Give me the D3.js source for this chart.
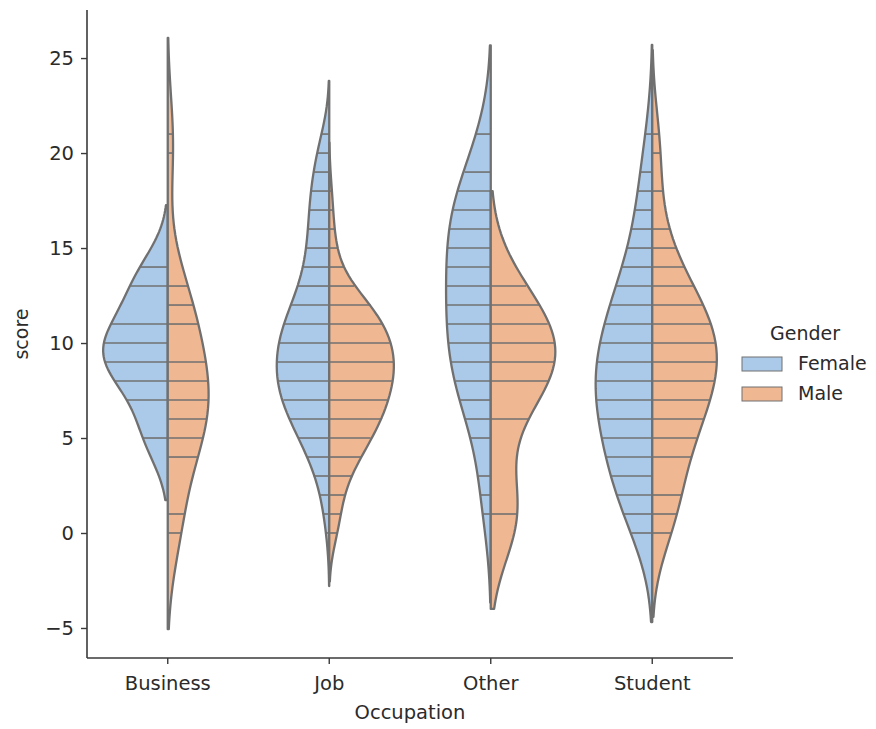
<!DOCTYPE html>
<html>
<head>
<meta charset="utf-8">
<script src="https://cdn.jsdelivr.net/npm/d3@7/dist/d3.min.js"></script>
<style>
  body { margin: 0; background: #fff; }
  svg text { font-family: "DejaVu Sans", sans-serif; fill: #2b2b2b; }
</style>
</head>
<body>
<svg id="chart" width="876" height="729"></svg>
<script>
// Categories and hue levels
const occupations = ["Business", "Job", "Other", "Student"];
const genders = ["Female", "Male"];

// Score levels (integer scores) and how many people got each score, per group
const scoreLevels = d3.range(0, 22); // 0 .. 21
const businessFemale = [0,0,0,0,0,2,0,1,1,3,2,2,0,2,1,0,0,0,0,0,0,0];
const businessMale   = [2,2,0,0,2,3,3,3,3,3,0,3,2,2,0,0,0,0,0,0,1,1];
const jobFemale      = [2,4,5,8,14,21,27,35,37,37,36,33,25,20,16,15,14,14,13,11,9,6];
const jobMale        = [3,3,3,5,8,11,14,15,17,17,17,14,12,5,2,2,1,1,1,0,0,0];
const otherFemale    = [0,1,1,1,0,1,2,2,3,3,3,3,3,3,3,3,3,3,3,2,0,2];
const otherMale      = [0,3,0,0,0,0,1,0,2,2,2,1,1,1,0,0,0,0,0,0,0,0];
const studentFemale  = [2,2,2,3,3,3,3,4,4,4,3,3,3,2,2,1,1,1,1,1,0,1];
const studentMale    = [2,2,3,0,3,3,3,4,4,5,5,4,4,2,2,1,1,0,1,0,1,1];

const yTicks = [-5, 0, 5, 10, 15, 20, 25];

const groupCounts = {
  Business: { Female: businessFemale, Male: businessMale },
  Job:      { Female: jobFemale,      Male: jobMale },
  Other:    { Female: otherFemale,    Male: otherMale },
  Student:  { Female: studentFemale,  Male: studentMale }
};

// Colours (pastel palette, desaturated) and outline grey
const colors = { Female: "#abcaea", Male: "#efb792" };
const gray = "#707070";
const axisColor = "#3a3a3a";

// Layout
const plot = { left: 87, right: 733, top: 10, bottom: 658 };

const svg = d3.select("#chart");

const x = d3.scaleBand().domain(occupations).range([plot.left, plot.right]).padding(0);
const y = d3.scaleLinear().domain([-6.58, 27.53]).range([plot.bottom, plot.top]);

// Expand counts to raw observations
function expand(counts) {
  const out = [];
  counts.forEach((c, i) => { for (let k = 0; k < c; k++) out.push(scoreLevels[i]); });
  return out;
}

// Gaussian KDE with Scott's rule, support cut at 2 bandwidths, 100 grid points
function kde(values) {
  const n = values.length;
  const sd = d3.deviation(values);
  const bw = Math.pow(n, -1 / 5) * sd;
  const lo = d3.min(values) - 2 * bw, hi = d3.max(values) + 2 * bw;
  const grid = d3.range(100).map(i => lo + (hi - lo) * i / 99);
  const norm = 1 / (n * bw * Math.sqrt(2 * Math.PI));
  const dens = grid.map(s => norm * d3.sum(values, v => Math.exp(-0.5 * ((s - v) / bw) ** 2)));
  return { grid, dens, values };
}

// Compute densities, scaled so the widest half in each category fills the width
const halfWidth = x.bandwidth() * 0.4;
const violins = [];
occupations.forEach(occ => {
  const parts = genders.map(g => ({ occ, g, ...kde(expand(groupCounts[occ][g])) }));
  const maxD = d3.max(parts, p => d3.max(p.dens));
  parts.forEach(p => { p.scaled = p.dens.map(d => d / maxD); violins.push(p); });
});

const center = occ => x(occ) + x.bandwidth() / 2;

const gV = svg.append("g");
violins.forEach(v => {
  const cx = center(v.occ);
  const dir = v.g === "Female" ? -1 : 1;
  const pts = v.grid.map((s, i) => [cx + dir * v.scaled[i] * halfWidth, y(s)]);
  // close the half along the centre line
  const poly = pts.concat([[cx, y(v.grid[v.grid.length - 1])], [cx, y(v.grid[0])]]);
  gV.append("path")
    .attr("d", d3.line()(poly) + "Z")
    .attr("fill", colors[v.g])
    .attr("stroke", gray)
    .attr("stroke-width", 2.3)
    .attr("stroke-linejoin", "round");
  // one stick per observed score, reaching the density at that score
  const unique = Array.from(new Set(v.values));
  unique.forEach(val => {
    const idx = d3.minIndex(v.grid, s => Math.abs(s - val));
    const w = v.scaled[idx] * halfWidth * 0.99;
    gV.append("line")
      .attr("x1", cx).attr("x2", cx + dir * w)
      .attr("y1", y(val)).attr("y2", y(val))
      .attr("stroke", gray)
      .attr("stroke-width", 1.6);
  });
});

// Axes
const gy = svg.append("g").attr("transform", `translate(${plot.left},0)`);
gy.call(d3.axisLeft(y).tickValues(yTicks).tickSize(6).tickPadding(7)
  .tickFormat(d => d < 0 ? "\u2212" + Math.abs(d) : d));
gy.select(".domain").attr("d", `M0,${plot.top}V${plot.bottom}`);

const gx = svg.append("g").attr("transform", `translate(0,${plot.bottom})`);
gx.call(d3.axisBottom(x).tickSize(6).tickPadding(12));
gx.select(".domain").attr("d", `M${plot.left},0H${plot.right}`);

[gx, gy].forEach(g => {
  g.selectAll(".domain").attr("stroke", axisColor).attr("stroke-width", 1.6);
  g.selectAll(".tick line").attr("stroke", axisColor).attr("stroke-width", 1.4);
  g.selectAll(".tick text").attr("font-size", 19.5).attr("fill", "#2b2b2b")
    .style("font-family", '"DejaVu Sans", sans-serif');
});

svg.append("text")
  .attr("x", (plot.left + plot.right) / 2).attr("y", 719)
  .attr("text-anchor", "middle").attr("font-size", 19.5)
  .text("Occupation");

svg.append("text")
  .attr("transform", `translate(28,${(plot.top + plot.bottom) / 2}) rotate(-90)`)
  .attr("text-anchor", "middle").attr("font-size", 19)
  .text("score");

// Legend
const legend = svg.append("g");
legend.append("text").attr("x", 805).attr("y", 340)
  .attr("text-anchor", "middle").attr("font-size", 19).text("Gender");
genders.forEach((g, i) => {
  const yy = 357 + i * 30;
  legend.append("rect")
    .attr("x", 742).attr("y", yy).attr("width", 40).attr("height", 14)
    .attr("fill", colors[g]).attr("stroke", gray).attr("stroke-width", 1);
  legend.append("text").attr("x", 798).attr("y", yy + 13)
    .attr("font-size", 19).text(g);
});
</script>
</body>
</html>
